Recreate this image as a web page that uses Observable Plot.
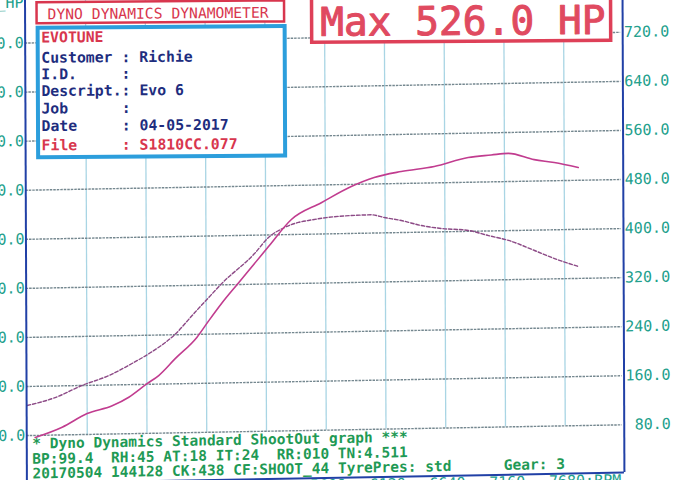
<!DOCTYPE html>
<html><head><meta charset="utf-8">
<script src="https://cdn.jsdelivr.net/npm/d3@7"></script>
<script src="https://cdn.jsdelivr.net/npm/@observablehq/plot@0.6"></script>
<style>
html,body{margin:0;padding:0;background:#fff;overflow:hidden;width:699px;height:480px;}
#chart svg{display:block;}
</style></head>
<body><div id="chart"></div>
<script>
// ---------- data read from the dyno sheet ----------
const rpmTicks = [3520, 4040, 4560, 5080, 5600, 6120, 6640, 7160, 7680];
const valueTicks = [80, 160, 240, 320, 400, 480, 560, 640, 720];
const powerRpm = [3067, 3302, 3520, 3738, 3883, 4042, 4144, 4288, 4477, 4582, 4695, 4843, 5104, 5304, 5565, 5826, 6026, 6261, 6549, 6845, 7045, 7193, 7419, 7593, 7802];
const powerHP  = [76.5, 92.5, 114, 126, 139.5, 161, 174, 201, 235, 262, 290, 323, 381, 424.5, 451, 476.5, 490.6, 499.5, 506.7, 520.4, 523.8, 526, 515, 509.6, 500.8];
const torqueRpm = [2998, 3241, 3476, 3711, 3912, 4060, 4286, 4460, 4582, 4695, 4982, 5104, 5243, 5365, 5452, 5609, 5826, 6000, 6113, 6261, 6435, 6610, 6845, 7019, 7193, 7419, 7593, 7802];
const torqueFtLb = [129, 141, 160, 175.5, 194.4, 210, 240.4, 275.6, 299.8, 322, 370, 395.8, 411.6, 419.5, 422.4, 426.6, 429.2, 429.8, 425, 419.6, 410.8, 405.4, 401.4, 392.5, 384, 366.8, 353, 339.4];
const headerTitle = "DYNO DYNAMICS DYNAMOMETER";
const maxLabel = "Max 526.0 HP";
const leftAxisTitle = "_HP";
const infoNavy = ["Customer : Richie", "I.D.     :", "Descript.: Evo 6", "Job      :", "Date     : 04-05-2017"];
const infoRed = ["EVOTUNE", "File     : S1810CC.077"];
const footerLines = [
  "* Dyno Dynamics Standard ShootOut graph ***",
  "BP:99.4  RH:45 AT:18 IT:24  RR:010 TN:4.511",
  "20170504 144128 CK:438 CF:SHOOT_44 TyrePres: std      Gear: 3"
];

// ---------- layout ----------
const FONT = "'DejaVu Sans Mono', monospace";
const xs = d3.scaleLinear([3520, 7680], [85, 563]);
const ys = d3.scaleLinear([80, 720], [435.5, 43]);
const X = p => xs.invert(p), Y = p => ys.invert(p);
const nb = s => s.replace(/ /g, "\u00a0");

const power = powerRpm.map((rpm, i) => ({rpm, v: powerHP[i]}));
const torque = torqueRpm.map((rpm, i) => ({rpm, v: torqueFtLb[i]}));

const xL = X(24.5), xR = X(622), yBot = Y(483.3), yTop = Y(-25);
const navyY = [62.5, 79.1, 95.8, 113.4, 130.8];
const redY = [42.2, 150.1];
const footY = [448.6, 463.9, 478.5];
const teal = "#22a08c", green = "#1f9a55", navy = "#1e2d7e", red = "#d8364e", frameBlue = "#2140a6";

const chart = Plot.plot({
  width: 699, height: 480, margin: 0,
  style: {background: "transparent", overflow: "visible"},
  x: {domain: xs.domain(), range: xs.range(), axis: null},
  y: {domain: ys.domain(), range: ys.range(), axis: null},
  marks: [
    Plot.ruleX(rpmTicks, {y1: 80, y2: yTop, stroke: "#a9d5e4", strokeWidth: 1.3}),
    Plot.ruleY(valueTicks, {x1: xL, x2: X(620), stroke: "#74878f", strokeWidth: 1.4, strokeDasharray: "2.5,1"}),
    Plot.line(torque, {x: "rpm", y: "v", stroke: "#8c4a86", strokeWidth: 1.4, strokeDasharray: "3.5,2", curve: "monotone-x"}),
    Plot.line(power, {x: "rpm", y: "v", stroke: "#c13c8f", strokeWidth: 1.6, curve: "monotone-x"}),
    Plot.ruleX([xL, xR], {y1: yBot, y2: yTop, stroke: frameBlue, strokeWidth: 2}),
    Plot.ruleY([yBot], {x1: xL, x2: xR, stroke: frameBlue, strokeWidth: 2}),
    // axis labels
    Plot.text(valueTicks, {x: X(668.5), y: d => d, text: d => d.toFixed(1), textAnchor: "end", lineAnchor: "middle", fontSize: 15, fontFamily: FONT, fill: teal}),
    Plot.text(valueTicks, {x: X(23), y: d => d, text: d => d.toFixed(1), textAnchor: "end", lineAnchor: "middle", fontSize: 15, fontFamily: FONT, fill: teal}),
    Plot.text([leftAxisTitle], {x: X(23), y: Y(7.5), text: d => d, textAnchor: "end", lineAnchor: "bottom", fontSize: 15, fontFamily: FONT, fill: teal}),
    Plot.text(rpmTicks, {x: d => d, y: Y(485), text: (d, i) => i === rpmTicks.length - 1 ? d + ":RPM" : String(d), textAnchor: "start", dx: -16.5, lineAnchor: "top", fontSize: 15, fontFamily: FONT, fill: teal}),
    // footer
    Plot.text(footerLines, {x: X(30), y: (d, i) => Y(footY[i]), text: d => nb(d), textAnchor: "start", lineAnchor: "bottom", fontSize: 14.5, fontFamily: FONT, fontWeight: "bold", fill: green}),
    // boxes
    Plot.rect([0], {x1: X(36.5), x2: X(284), y1: Y(2.4), y2: Y(23.4), fill: "white", stroke: red, strokeWidth: 2.5, ariaDescription: "box"}),
    Plot.text([headerTitle], {x: X(47), y: Y(19.1), text: d => d, textAnchor: "start", lineAnchor: "bottom", fontSize: 14.7, fontFamily: FONT, fill: red, ariaDescription: "box"}),
    Plot.rect([0], {x1: X(37.5), x2: X(284.5), y1: Y(28.1), y2: Y(157.6), fill: "white", stroke: "#2c9edc", strokeWidth: 4, ariaDescription: "box"}),
    Plot.text(infoNavy, {x: X(40.5), y: (d, i) => Y(navyY[i]), text: d => nb(d), textAnchor: "start", lineAnchor: "bottom", fontSize: 14.8, fontFamily: FONT, fontWeight: "bold", fill: navy, ariaDescription: "box"}),
    Plot.text(infoRed, {x: X(40.5), y: (d, i) => Y(redY[i]), text: d => nb(d), textAnchor: "start", lineAnchor: "bottom", fontSize: 14.8, fontFamily: FONT, fontWeight: "bold", fill: red, ariaDescription: "box"}),
    Plot.rect([0], {x1: X(311.5), x2: X(610.5), y1: Y(-8), y2: Y(44.5), fill: "white", stroke: "#de4058", strokeWidth: 3.5, ariaDescription: "box"}),
    Plot.text([maxLabel], {x: X(319.5), y: Y(37.5), text: d => d, textAnchor: "start", lineAnchor: "bottom", fontSize: 39.5, fontFamily: FONT, fill: "#e04a60", stroke: "#e04a60", strokeWidth: 1, ariaDescription: "box"})
  ]
});

chart.querySelectorAll('g[aria-description="box"]').forEach(g => {
  g.setAttribute("transform", "matrix(1 0.011 0 1 0 0) " + (g.getAttribute("transform") || ""));
});
chart.style.transformOrigin = "0 0";
chart.style.transform = "matrix(1, -0.018, 0.004, 1, 0, 0)";
document.getElementById("chart").appendChild(chart);
</script>
</body></html>
